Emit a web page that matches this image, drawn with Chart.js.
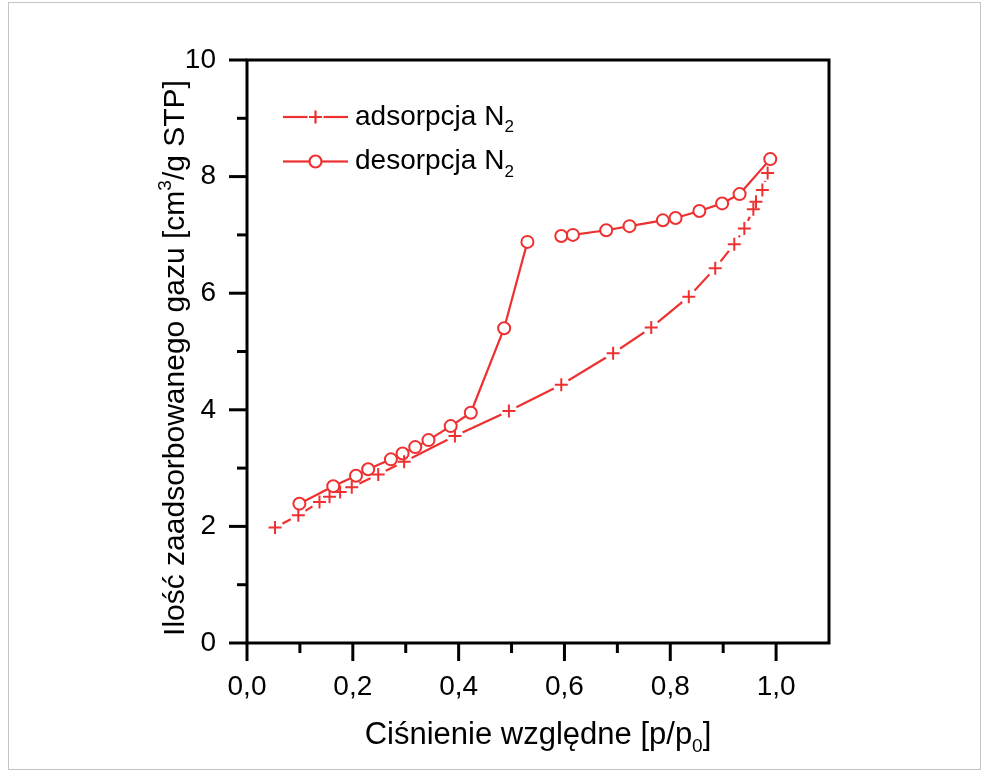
<!DOCTYPE html>
<html>
<head>
<meta charset="utf-8">
<script src="https://cdn.jsdelivr.net/npm/chart.js@4.4.1/dist/chart.umd.min.js"></script>
<style>
  html, body { margin: 0; padding: 0; background: #fff; }
  canvas { display: block; }
</style>
</head>
<body>
<canvas id="isotherm" width="987" height="778"></canvas>
<script>
// adsorption branch (crosses)
const adsX = [0.053, 0.097, 0.137, 0.156, 0.176, 0.198, 0.248, 0.297, 0.393, 0.495, 0.594, 0.692, 0.764, 0.835, 0.885, 0.921, 0.940, 0.957, 0.962, 0.974, 0.984];
const adsY = [1.98, 2.19, 2.42, 2.51, 2.59, 2.67, 2.89, 3.11, 3.55, 3.98, 4.43, 4.97, 5.41, 5.94, 6.43, 6.84, 7.11, 7.44, 7.57, 7.77, 8.06];

// desorption branch (circles), line broken after index desGapAfter
const desX = [0.099, 0.163, 0.206, 0.229, 0.272, 0.294, 0.318, 0.343, 0.385, 0.423, 0.486, 0.530, 0.594, 0.616, 0.679, 0.723, 0.786, 0.810, 0.855, 0.898, 0.931, 0.989];
const desY = [2.39, 2.69, 2.87, 2.98, 3.15, 3.25, 3.36, 3.48, 3.72, 3.95, 5.40, 6.88, 6.98, 7.00, 7.08, 7.15, 7.25, 7.29, 7.41, 7.54, 7.70, 8.30];
const desGapAfter = 11;

const xTicks = [0, 0.2, 0.4, 0.6, 0.8, 1.0];
const xMinorTicks = [0.1, 0.3, 0.5, 0.7, 0.9];
const yTicks = [0, 2, 4, 6, 8, 10];
const yMinorTicks = [1, 3, 5, 7, 9];

const legendLabels = [
  [{ t: 'adsorpcja N' }, { t: '2', sub: true }],
  [{ t: 'desorpcja N' }, { t: '2', sub: true }]
];
const xTitle = [{ t: 'Ciśnienie względne [p/p' }, { t: '0', sub: true }, { t: ']' }];
const yTitle = [{ t: 'Ilość zaadsorbowanego gazu [cm' }, { t: '3', sup: true }, { t: '/g STP]' }];

const RED = '#ee3030';
const FONT = '"Liberation Sans", Arial, sans-serif';

const adsPoints = adsX.map((x, i) => ({ x, y: adsY[i] }));
const desPoints = desX.map((x, i) => ({ x, y: desY[i] }));
const desLinePoints = [];
desPoints.forEach((p, i) => {
  desLinePoints.push(p);
  if (i === desGapAfter) desLinePoints.push({ x: (p.x + desPoints[i + 1].x) / 2, y: null });
});

function drawRich(ctx, parts, cx, cy, size, alignLeft) {
  const small = Math.round(size * 0.62);
  let width = 0;
  parts.forEach((p) => {
    ctx.font = `${p.sub || p.sup ? small : size}px ${FONT}`;
    p.w = ctx.measureText(p.t).width;
    width += p.w;
  });
  let x = alignLeft ? cx : cx - width / 2;
  ctx.textBaseline = 'middle';
  ctx.textAlign = 'left';
  parts.forEach((p) => {
    ctx.font = `${p.sub || p.sup ? small : size}px ${FONT}`;
    let dy = 0;
    if (p.sub) dy = size * 0.38;
    if (p.sup) dy = -size * 0.34;
    ctx.fillText(p.t, x, cy + dy);
    x += p.w;
  });
  return width;
}

const decorations = {
  id: 'decorations',
  beforeDraw(chart) {
    const { ctx } = chart;
    ctx.save();
    ctx.strokeStyle = '#c4c4c4';
    ctx.lineWidth = 1;
    ctx.strokeRect(8.5, 2.5, 972, 767);
    ctx.restore();
  },
  afterDraw(chart) {
    const { ctx, chartArea: a, scales } = chart;
    const xs = scales.x;
    const ys = scales.y;
    ctx.save();
    ctx.strokeStyle = '#000';
    ctx.lineWidth = 3;
    ctx.lineCap = 'butt';
    ctx.strokeRect(a.left, a.top, a.right - a.left, a.bottom - a.top);

    const tick = (x1, y1, x2, y2) => {
      ctx.beginPath();
      ctx.moveTo(x1, y1);
      ctx.lineTo(x2, y2);
      ctx.stroke();
    };
    xTicks.forEach((v) => { const px = xs.getPixelForValue(v); tick(px, a.bottom, px, a.bottom + 18); });
    xMinorTicks.forEach((v) => { const px = xs.getPixelForValue(v); tick(px, a.bottom, px, a.bottom + 10); });
    yTicks.forEach((v) => { const py = ys.getPixelForValue(v); tick(a.left, py, a.left - 18, py); });
    yMinorTicks.forEach((v) => { const py = ys.getPixelForValue(v); tick(a.left, py, a.left - 10, py); });

    // axis titles
    ctx.fillStyle = '#000';
    drawRich(ctx, xTitle, (a.left + a.right) / 2, 735, 31);
    ctx.save();
    ctx.translate(176, 358);
    ctx.rotate(-Math.PI / 2);
    drawRich(ctx, yTitle, 0, 0, 30);
    ctx.restore();

    // legend
    const styles = [
      { pointStyle: 'cross', radius: 6.5, borderWidth: 2, gap: 8 },
      { pointStyle: 'circle', radius: 6, borderWidth: 2, gap: 6 }
    ];
    legendLabels.forEach((label, i) => {
      const y = a.top + 57 + i * 44.5;
      const x1 = a.left + 36;
      const x2 = a.left + 101;
      const mx = (x1 + x2) / 2;
      const s = styles[i];
      ctx.strokeStyle = RED;
      ctx.lineWidth = 2.2;
      tick(x1, y, mx - s.gap, y);
      tick(mx + s.gap, y, x2, y);
      ctx.fillStyle = '#fff';
      Chart.helpers.drawPoint(ctx, { pointStyle: s.pointStyle, radius: s.radius, borderWidth: s.borderWidth, rotation: 0 }, mx, y);
      ctx.fillStyle = '#000';
      drawRich(ctx, label.map((p) => Object.assign({}, p)), a.left + 108, y, 28, true);
    });
    ctx.restore();
  }
};

new Chart(document.getElementById('isotherm'), {
  type: 'scatter',
  data: {
    datasets: [
      {
        label: 'adsorpcja line',
        data: adsPoints,
        showLine: true,
        borderColor: RED,
        borderWidth: 2.2,
        pointRadius: 0,
        order: 5
      },
      {
        label: 'adsorpcja gaps',
        data: adsPoints,
        showLine: false,
        pointStyle: 'circle',
        pointRadius: 8.5,
        pointBackgroundColor: '#fff',
        pointBorderWidth: 0,
        order: 4
      },
      {
        label: 'desorpcja line',
        data: desLinePoints,
        showLine: true,
        spanGaps: false,
        borderColor: RED,
        borderWidth: 2.2,
        pointRadius: 0,
        order: 3
      },
      {
        label: 'desorpcja N2',
        data: desPoints,
        showLine: false,
        pointStyle: 'circle',
        pointRadius: 6,
        pointBorderWidth: 2,
        pointBorderColor: RED,
        pointBackgroundColor: '#fff',
        order: 2
      },
      {
        label: 'adsorpcja N2',
        data: adsPoints,
        showLine: false,
        pointStyle: 'cross',
        pointRadius: 6.5,
        pointBorderWidth: 2,
        pointBorderColor: RED,
        order: 1
      }
    ]
  },
  options: {
    responsive: false,
    animation: false,
    devicePixelRatio: 1,
    layout: { padding: { left: 0, top: 60, right: 158, bottom: 0 } },
    plugins: { legend: { display: false }, tooltip: { enabled: false } },
    scales: {
      x: {
        type: 'linear',
        min: 0,
        max: 1.1,
        grid: { display: false, drawTicks: false },
        border: { display: false },
        afterFit: (scale) => { scale.height = 135; },
        ticks: {
          stepSize: 0.2,
          includeBounds: false,
          padding: 27,
          color: '#000',
          font: { family: FONT, size: 28 },
          callback: (v) => (Math.abs(v * 5 - Math.round(v * 5)) < 1e-6 ? v.toFixed(1).replace('.', ',') : '')
        }
      },
      y: {
        type: 'linear',
        min: 0,
        max: 10,
        grid: { display: false, drawTicks: false },
        border: { display: false },
        afterFit: (scale) => { scale.width = 247; },
        ticks: {
          stepSize: 2,
          padding: 31,
          color: '#000',
          font: { family: FONT, size: 28 },
          callback: (v) => String(v)
        }
      }
    }
  },
  plugins: [decorations]
});
</script>
</body>
</html>
